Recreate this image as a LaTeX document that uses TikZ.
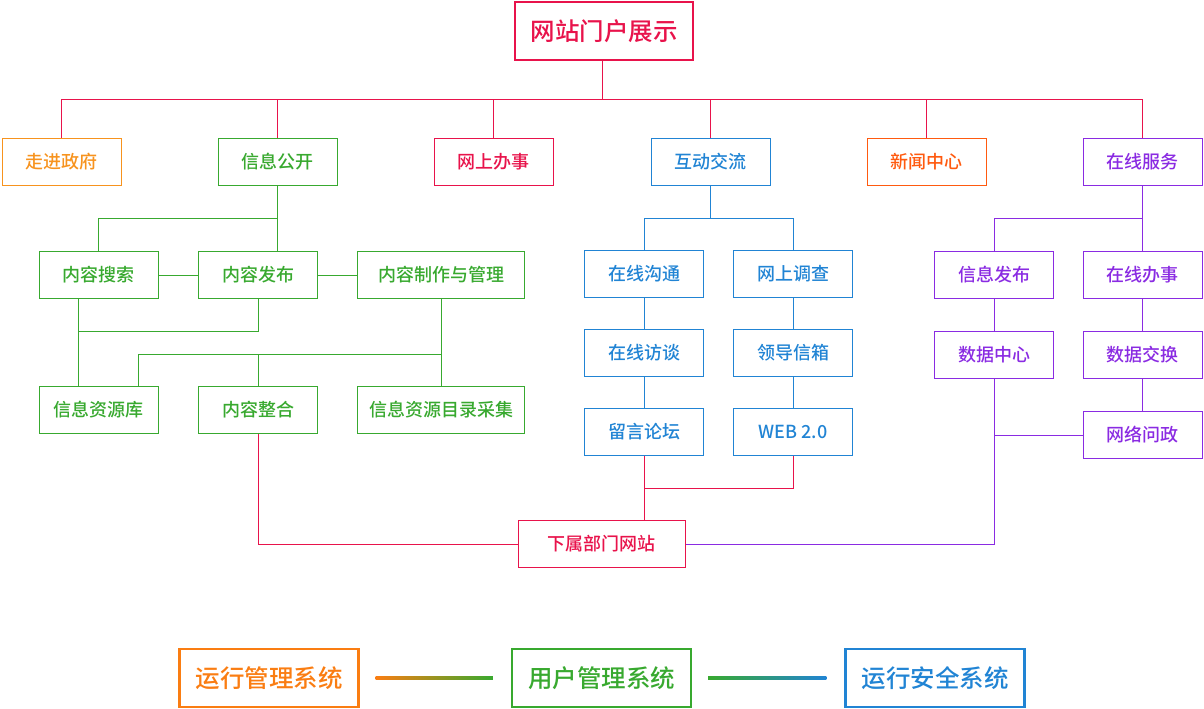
\documentclass[tikz,border=0pt]{standalone}
\usepackage{fontspec}
\setmainfont{Noto Sans CJK SC}[UprightFont = {* Medium}]

\definecolor{crimson}{HTML}{E8134B}
\definecolor{lightorange}{HTML}{F7931E}
\definecolor{darkorange}{HTML}{FF5A0F}
\definecolor{bottomorange}{HTML}{FA7D12}
\definecolor{leafgreen}{HTML}{38A92F}
\definecolor{skyblue}{HTML}{2184D4}
\definecolor{purpleline}{HTML}{8A2BE2}

\begin{document}
\begin{tikzpicture}
[
    x = 1pt, y = -1pt,
    box/.style = {draw, line width = 1pt, minimum width = 119pt, minimum height = 47pt, inner sep = 0pt, font = \fontsize{18}{20}\selectfont},
    bigbox/.style = {draw, line width = 2.2pt, minimum width = 178pt, minimum height = 58pt, inner sep = 0pt, font = \fontsize{24.5}{28}\selectfont},
    link/.style = {line width = 1pt}
]
\useasboundingbox (0,0) rectangle (1204,709);

\node[bigbox, crimson] (wzmh) at (604,31) {网站门户展示};

\node[box, lightorange] (zjzf) at (61.5,161.5) {走进政府};
\node[box, leafgreen] (xxgk) at (277.5,161.5) {信息公开};
\node[box, crimson] (wsbs) at (493.5,161.5) {网上办事};
\node[box, skyblue] (hdjl) at (710.5,161.5) {互动交流};
\node[box, darkorange] (xwzx) at (926.5,161.5) {新闻中心};
\node[box, purpleline] (zxfw) at (1142.5,161.5) {在线服务};

\node[box, leafgreen] (nrss) at (98.5,275) {内容搜索};
\node[box, leafgreen] (nrfb) at (258,275) {内容发布};
\node[box, leafgreen, minimum width = 167pt] (nrzz) at (441,275) {内容制作与管理};
\node[box, leafgreen] (xxzyk) at (98.5,410) {信息资源库};
\node[box, leafgreen] (nrzh) at (258,410) {内容整合};
\node[box, leafgreen, minimum width = 167pt] (xxml) at (441,410) {信息资源目录采集};

\node[box, skyblue] (zxgt) at (644,274) {在线沟通};
\node[box, skyblue] (wsdc) at (793,274) {网上调查};
\node[box, skyblue] (zxft) at (644,353) {在线访谈};
\node[box, skyblue] (ldxx) at (793,353) {领导信箱};
\node[box, skyblue] (lylt) at (644,432) {留言论坛};
\node[box, skyblue] (web) at (793,432) {WEB 2.0};

\node[box, purpleline] (xxfb) at (994,275) {信息发布};
\node[box, purpleline] (zxbs) at (1142.5,275) {在线办事};
\node[box, purpleline] (sjzx) at (994,355) {数据中心};
\node[box, purpleline] (sjjh) at (1142.5,355) {数据交换};
\node[box, purpleline] (wlwz) at (1142.5,435) {网络问政};

\node[box, crimson, minimum width = 167pt] (xsbm) at (601.5,544) {下属部门网站};

\node[bigbox, bottomorange, minimum width = 179pt] (yxgl) at (269,678) {运行管理系统};
\node[bigbox, leafgreen, minimum width = 179pt] (yhgl) at (601.5,678) {用户管理系统};
\node[bigbox, skyblue, minimum width = 179pt] (yxaq) at (935,678) {运行安全系统};

\coordinate (hub) at (602,99);
\draw[link, crimson] (hub |- wzmh.south) -- (hub);
\foreach \n in {zjzf, xxgk, wsbs, hdjl, xwzx, zxfw}
    \draw[link, crimson] (hub) -| (\n.north);

\draw[link, leafgreen] (xxgk.south) -- (xxgk.south |- nrfb.north);
\draw[link, leafgreen] (xxgk.south) ++(0,33) -| (nrss.north);
\draw[link, leafgreen] (nrss) -- (nrfb) -- (nrzz);
\draw[link, leafgreen] ([xshift=-20pt]nrss.south) -- ([xshift=-20pt]xxzyk.north);
\draw[link, leafgreen] (nrfb.south) -- ++(0,32) -| ([xshift=-20pt]nrss.south);
\draw[link, leafgreen] (nrzz.south) -- (xxml.north);
\draw[link, leafgreen] (nrzz.south) ++(0,55) coordinate (gjoin) -| ([xshift=40pt]xxzyk.north);
\draw[link, leafgreen] (gjoin -| nrzh.north) -- (nrzh.north);

\draw[link, skyblue] (hdjl.south) -- ++(0,33) coordinate (bjoin) -| (zxgt.north);
\draw[link, skyblue] (bjoin) -| (wsdc.north);
\draw[link, skyblue] (zxgt) -- (zxft) -- (lylt);
\draw[link, skyblue] (wsdc) -- (ldxx) -- (web);

\draw[link, purpleline] (zxfw) -- (zxbs);
\draw[link, purpleline] (zxfw.south) ++(0,33) -| (xxfb.north);
\draw[link, purpleline] (xxfb) -- (sjzx);
\draw[link, purpleline] (zxbs) -- (sjjh) -- (wlwz);
\draw[link, purpleline] (sjzx.south) |- (xsbm.east);
\draw[link, purpleline] (wlwz.west) -- (wlwz.west -| sjzx.south);

\draw[link, crimson] (nrzh.south) |- (xsbm.west);
\draw[link, crimson] (lylt.south) -- (lylt.south |- xsbm.north);
\draw[link, crimson] (web.south) -- ++(0,32) -| (lylt.south);

\shade[left color = bottomorange, right color = leafgreen] ([xshift=16pt, yshift=-1.1pt]yxgl.east) rectangle ([xshift=-18pt, yshift=1.1pt]yhgl.west);
\shade[left color = leafgreen, right color = skyblue] ([xshift=16pt, yshift=-1.1pt]yhgl.east) rectangle ([xshift=-18pt, yshift=1.1pt]yxaq.west);
\end{tikzpicture}
\end{document}
